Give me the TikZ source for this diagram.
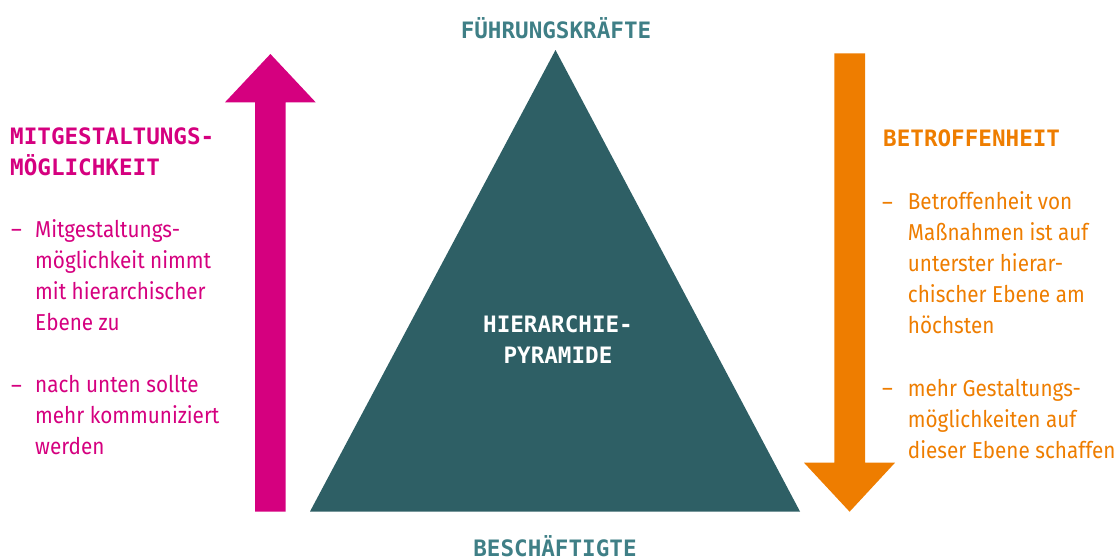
\documentclass[tikz,border=0pt]{standalone}
\usepackage{fontspec}
\setmainfont{Fira Sans}[FakeStretch=0.9]
\newfontfamily\headfont{DejaVu Sans Mono}
\definecolor{mag}{HTML}{D5007F}
\definecolor{ora}{HTML}{EE7D00}
\definecolor{tri}{HTML}{2E5F65}
\definecolor{teal}{HTML}{3F7F86}
\tikzset{
  head/.style={inner sep=0pt, font=\headfont\bfseries\fontsize{22.6}{31}\selectfont},
  body/.style={inner sep=0pt, align=left, font=\fontsize{23}{30.8}\selectfont},
}
\begin{document}
\begin{tikzpicture}[x=1pt,y=-1pt]
\useasboundingbox (0,0) rectangle (1120,560);
% pyramid
\fill[tri] (555.5,50) -- (800,511.5) -- (310,511.5) -- cycle;
% magenta arrow up
\fill[mag] (255,511.5) -- (255,102.3) -- (225,102.3) -- (270.4,54) -- (315.7,102.3) -- (285.7,102.3) -- (285.7,511.5) -- cycle;
% orange arrow down
\fill[ora] (834.3,53.3) -- (865,53.3) -- (865,462.7) -- (895,462.7) -- (849.6,511.7) -- (804,462.7) -- (834.3,462.7) -- cycle;
% labels
\node[head, text=teal, anchor=base] (top) at (556,38.3) {FÜHRUNGSKRÄFTE};
\node[head, text=teal, anchor=base] (bottom) at (555,556.5) {BESCHÄFTIGTE};
\node[head, text=white, anchor=base, align=center] (pyr) at (558,363.3) {HIERARCHIE-\\PYRAMIDE};
% left (base anchor = last line)
\node[head, text=mag, anchor=base west, align=left] (lh) at (10,175) {MITGESTALTUNGS-\\MÖGLICHKEIT};
\node[body, text=mag, anchor=base west] (ld1) at (11,237.7) {–};
\node[body, text=mag, anchor=base west] (lt1) at (35,330) {Mitgestaltungs-\\möglichkeit nimmt\\mit hierarchischer\\Ebene zu};
\node[body, text=mag, anchor=base west] (ld2) at (11,393) {–};
\node[body, text=mag, anchor=base west] (lt2) at (35,454) {nach unten sollte\\mehr kommuniziert\\werden};
% right
\node[head, text=ora, anchor=base west] (rh) at (883,146) {BETROFFENHEIT};
\node[body, text=ora, anchor=base west] (rd1) at (882,210) {–};
\node[body, text=ora, anchor=base west] (rt1) at (907.7,333) {Betroffenheit von\\Maßnahmen ist auf\\unterster hierar-\\chischer Ebene am\\höchsten};
\node[body, text=ora, anchor=base west] (rd2) at (882,396.7) {–};
\node[body, text=ora, anchor=base west] (rt2) at (907.7,458) {mehr Gestaltungs-\\möglichkeiten auf\\dieser Ebene schaffen};
\end{tikzpicture}
\end{document}
